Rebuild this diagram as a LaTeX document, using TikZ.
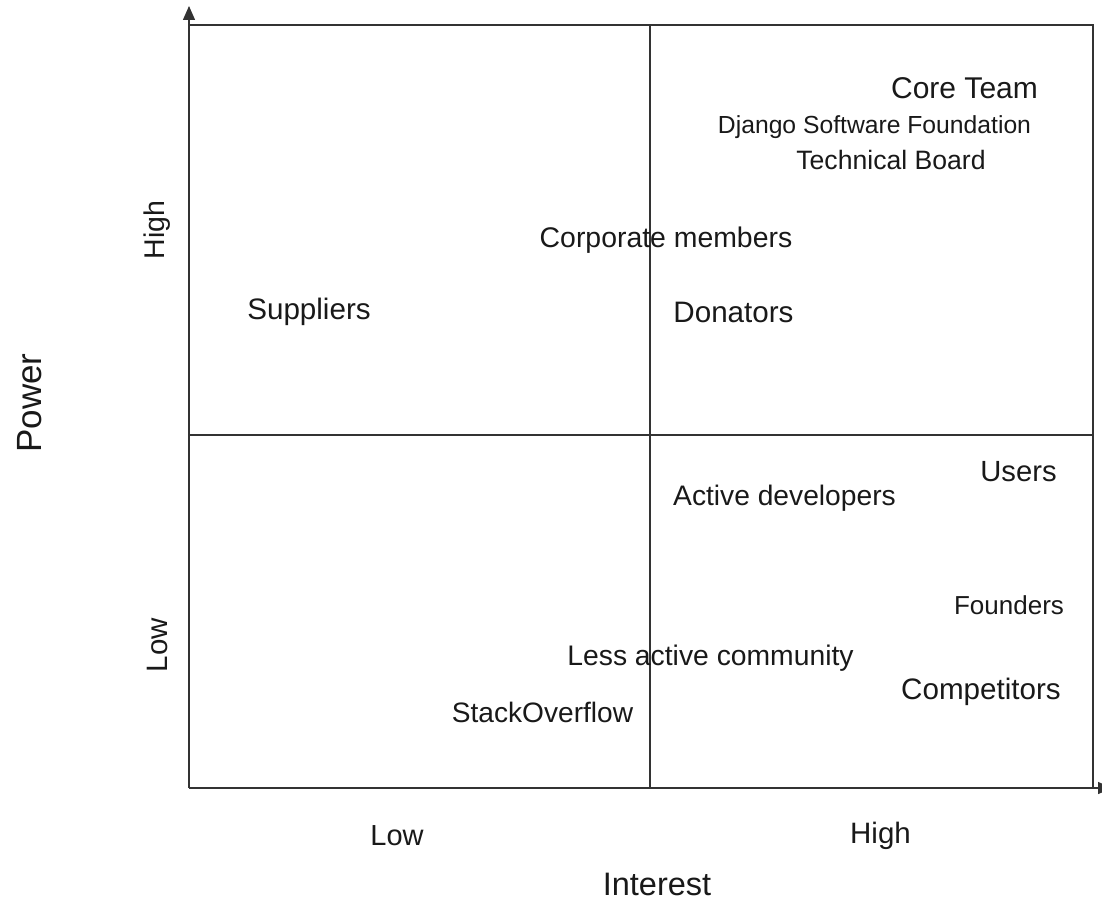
\documentclass[tikz,border=0pt]{standalone}
\usepackage{fontspec}
\setmainfont{Liberation Sans}
\usetikzlibrary{arrows.meta}
\begin{document}
\begin{tikzpicture}[x=1pt,y=-1pt,
  lbl/.style={inner sep=0pt,anchor=center,text=black!90},
  fs/.style={font=\fontsize{#1}{#1}\selectfont},
  grid/.style={line width=1.3pt,draw=black!80},
  tip/.style={-{Triangle[length=14pt,width=12pt]}}]
\useasboundingbox (0,0) rectangle (1102,907);
\coordinate (o) at (189,788);
\coordinate (ytop) at (189,6);
\coordinate (xend) at (1112,788);
\coordinate (tl) at (189,25);
\coordinate (tr) at (1093,25);
\coordinate (br) at (1093,788);
\coordinate (mt) at (650,25);
\coordinate (mb) at (650,788);
\coordinate (ml) at (189,435);
\coordinate (mr) at (1093,435);
\draw[grid] (tl) -- (tr) -- (br);
\draw[grid] (mt) -- (mb);
\draw[grid] (ml) -- (mr);
\draw[grid,tip] (o) -- (ytop);
\draw[grid,tip] (o) -- (xend);
\node[lbl,fs=30] (core) at (964.5,88) {Core Team};
\node[lbl,fs=24.7] (dsf) at (874.5,127) {Django Software Foundation};
\node[lbl,fs=26.6] (tb) at (891,160) {Technical Board};
\node[lbl,fs=28.4] (corp) at (666,240) {Corporate members};
\node[lbl,fs=29.6] (sup) at (309,312) {Suppliers};
\node[lbl,fs=29.6] (don) at (733.5,312) {Donators};
\node[lbl,fs=29.2] (users) at (1018.5,472) {Users};
\node[lbl,fs=28.2] (act) at (784.5,498) {Active developers};
\node[lbl,fs=26] (found) at (1009,605) {Founders};
\node[lbl,fs=28.3] (less) at (710.5,658) {Less active community};
\node[lbl,fs=29.6] (comp) at (981,692) {Competitors};
\node[lbl,fs=28.1] (so) at (542.5,712) {StackOverflow};
\node[lbl,fs=29] (xlow) at (397,836) {Low};
\node[lbl,fs=29.5] (xhigh) at (880.5,836) {High};
\node[lbl,fs=32.5] (interest) at (657,884) {Interest};
\node[lbl,fs=35,rotate=90] (power) at (30,403) {Power};
\node[lbl,fs=28.5,rotate=90] (yhigh) at (157,230) {High};
\node[lbl,fs=29.5,rotate=90] (ylow) at (157,645) {Low};
\end{tikzpicture}
\end{document}
